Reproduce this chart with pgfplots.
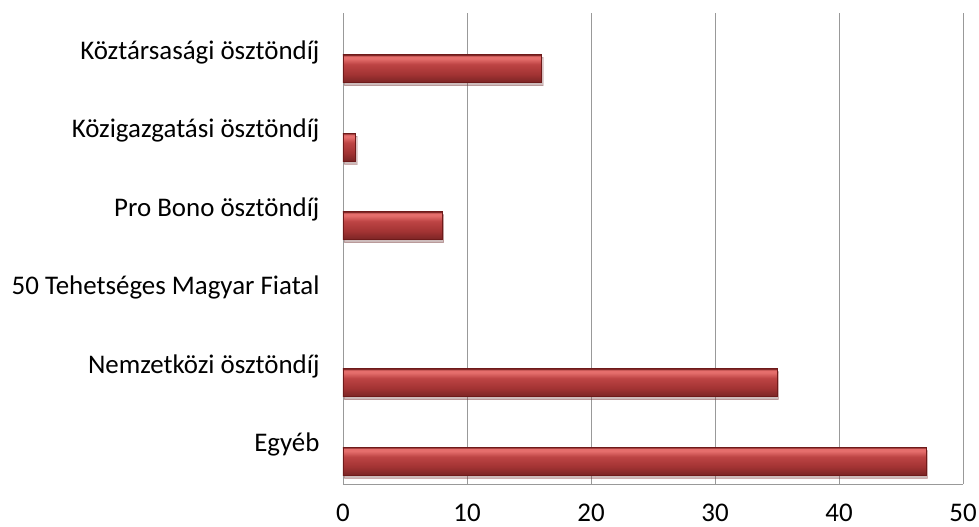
\documentclass[border=0pt]{standalone}
\usepackage{pgfplots}
\pgfplotsset{compat=1.18}
\usetikzlibrary{shadows}
\usepackage{fontspec}
\setmainfont{Carlito}
\definecolor{gridc}{HTML}{999999}
\definecolor{barlight}{HTML}{E56E6C}
\definecolor{barmid}{HTML}{BD4444}
\definecolor{bardeep}{HTML}{A23333}
\definecolor{bardark}{HTML}{7C2525}
\definecolor{baredge}{HTML}{6E1A1A}
\pgfdeclareverticalshading{barshade}{100bp}{color(0bp)=(bardark); color(26bp)=(bardark); color(40bp)=(bardeep); color(58bp)=(barmid); color(68bp)=(barlight); color(72bp)=(barlight); color(75bp)=(baredge); color(100bp)=(baredge)}
\pgfplotsset{mybar/.style={xbar, bar shift=0pt, bar width=0.357, draw=baredge, line width=0.5pt,
    shading=barshade,
    drop shadow={shadow xshift=1.5bp, shadow yshift=-3bp, opacity=0.2, fill=black!60}}}
\begin{document}
\begin{tikzpicture}
\begin{axis}[
  at={(0,0)}, anchor=south west,
  scale only axis,
  width=620bp, height=471bp,
  xmin=0, xmax=50,
  ymin=-0.5, ymax=5.5,
  xtick={0,10,20,30,40,50},
  ytick={0,1,2,3,4,5},
  yticklabels={Egyéb,Nemzetközi ösztöndíj,50 Tehetséges Magyar Fiatal,Pro Bono ösztöndíj,Közigazgatási ösztöndíj,Köztársasági ösztöndíj},
  xmajorgrids,
  major grid style={gridc, line width=0.9pt},
  axis line style={draw=none},
  major tick length=0pt,
  tick label style={font=\fontsize{27}{31}\selectfont},
  yticklabel style={xshift=-20bp},
  xticklabel style={yshift=-18bp, inner sep=2bp},
  /pgf/number format/assume math mode=true,
  clip=false,
]
\addplot[mybar] coordinates {(47,-0.21)};
\addplot[mybar] coordinates {(35,0.79)};
\addplot[mybar] coordinates {(8,2.79)};
\addplot[mybar] coordinates {(1,3.79)};
\addplot[mybar] coordinates {(16,4.79)};
\draw[gridc, line width=0.9pt] (axis cs:0,-0.5) -- (axis cs:50,-0.5);
\end{axis}
\path (-343bp,-43bp) rectangle (636bp,484bp);
\end{tikzpicture}
\end{document}
